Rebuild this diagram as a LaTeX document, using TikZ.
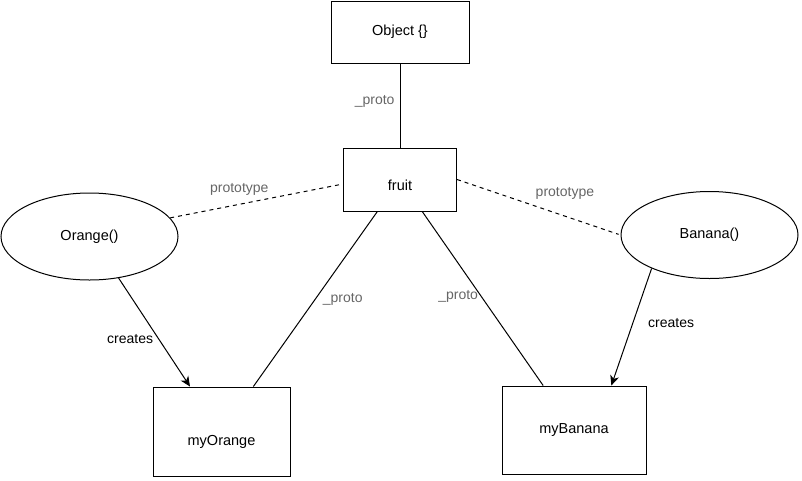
\documentclass[tikz,border=0pt]{standalone}
\usepackage{fontspec}
\setmainfont{Liberation Sans}
\usetikzlibrary{shapes.geometric, arrows.meta, positioning}
\definecolor{labelgray}{RGB}{102,102,102}
\tikzstyle{blockwhite} = [rectangle, draw=black, fill=white, line width=1pt, text centered, inner sep=0pt, text height=10pt, text depth=3pt, font=\fontsize{14.5}{17}\selectfont]
\tikzstyle{ellipsewhite} = [ellipse, draw=black, fill=white, line width=1pt, minimum width=177pt, minimum height=87pt, inner sep=0pt, font=\fontsize{14.5}{17}\selectfont]
\tikzstyle{arrow} = [line width=1pt,-{Stealth[length=10pt,width=9pt,inset=3pt]}]
\tikzstyle{link} = [line width=1pt]
\tikzstyle{dashlink} = [line width=1pt, dash pattern=on 4pt off 4pt]
\tikzstyle{graylabel} = [text=labelgray, inner sep=2pt, font=\fontsize{14}{17}\selectfont]
\tikzstyle{blacklabel} = [text=black, inner sep=2pt, font=\fontsize{14}{17}\selectfont]

\begin{document}
\begin{tikzpicture}[x=1pt, y=-1pt]
\useasboundingbox (0,0) rectangle (802,480);

\node (object) [blockwhite, minimum width=138pt, minimum height=62pt] at (400,32) {Object \{\}};
\node (fruit) [blockwhite, minimum width=113pt, minimum height=63pt, text height=24pt, below=84pt of object] {fruit};
\node (orange) [ellipsewhite] at (89.5,236.5) {Orange()};
\node (banana) [ellipsewhite] at (709.5,235) {Banana()};
\node (myorange) [blockwhite, minimum width=137pt, minimum height=89pt, text height=30pt] at (221.5,431.5) {myOrange};
\node (mybanana) [blockwhite, minimum width=144pt, minimum height=88pt] at (574,430) {myBanana};

\draw [link] (object) -- node[graylabel, pos=.45, left, xshift=-3pt] {\_proto} (fruit);
\draw [link] (fruit) -- node[graylabel, pos=.5, right, xshift=5pt] {\_proto} (myorange);
\draw [link] (fruit) -- node[graylabel, pos=.49, left, xshift=-1pt] {\_proto} (mybanana);
\draw [dashlink, shorten >=3pt] (orange.13) -- node[graylabel, pos=.4, above, yshift=6pt] {prototype} ([yshift=-4.5pt]fruit.west);
\draw [dashlink, shorten >=2pt] (fruit.east) -- node[graylabel, pos=.66, above, yshift=14pt] {prototype} (banana.west);
\draw [arrow] (orange.-55) -- node[blacklabel, pos=.56, left, xshift=-3pt] {creates} (myorange.125);
\draw [arrow] (banana.210) -- node[blacklabel, pos=.47, right, xshift=13pt] {creates} (mybanana.50);

\end{tikzpicture}
\end{document}
